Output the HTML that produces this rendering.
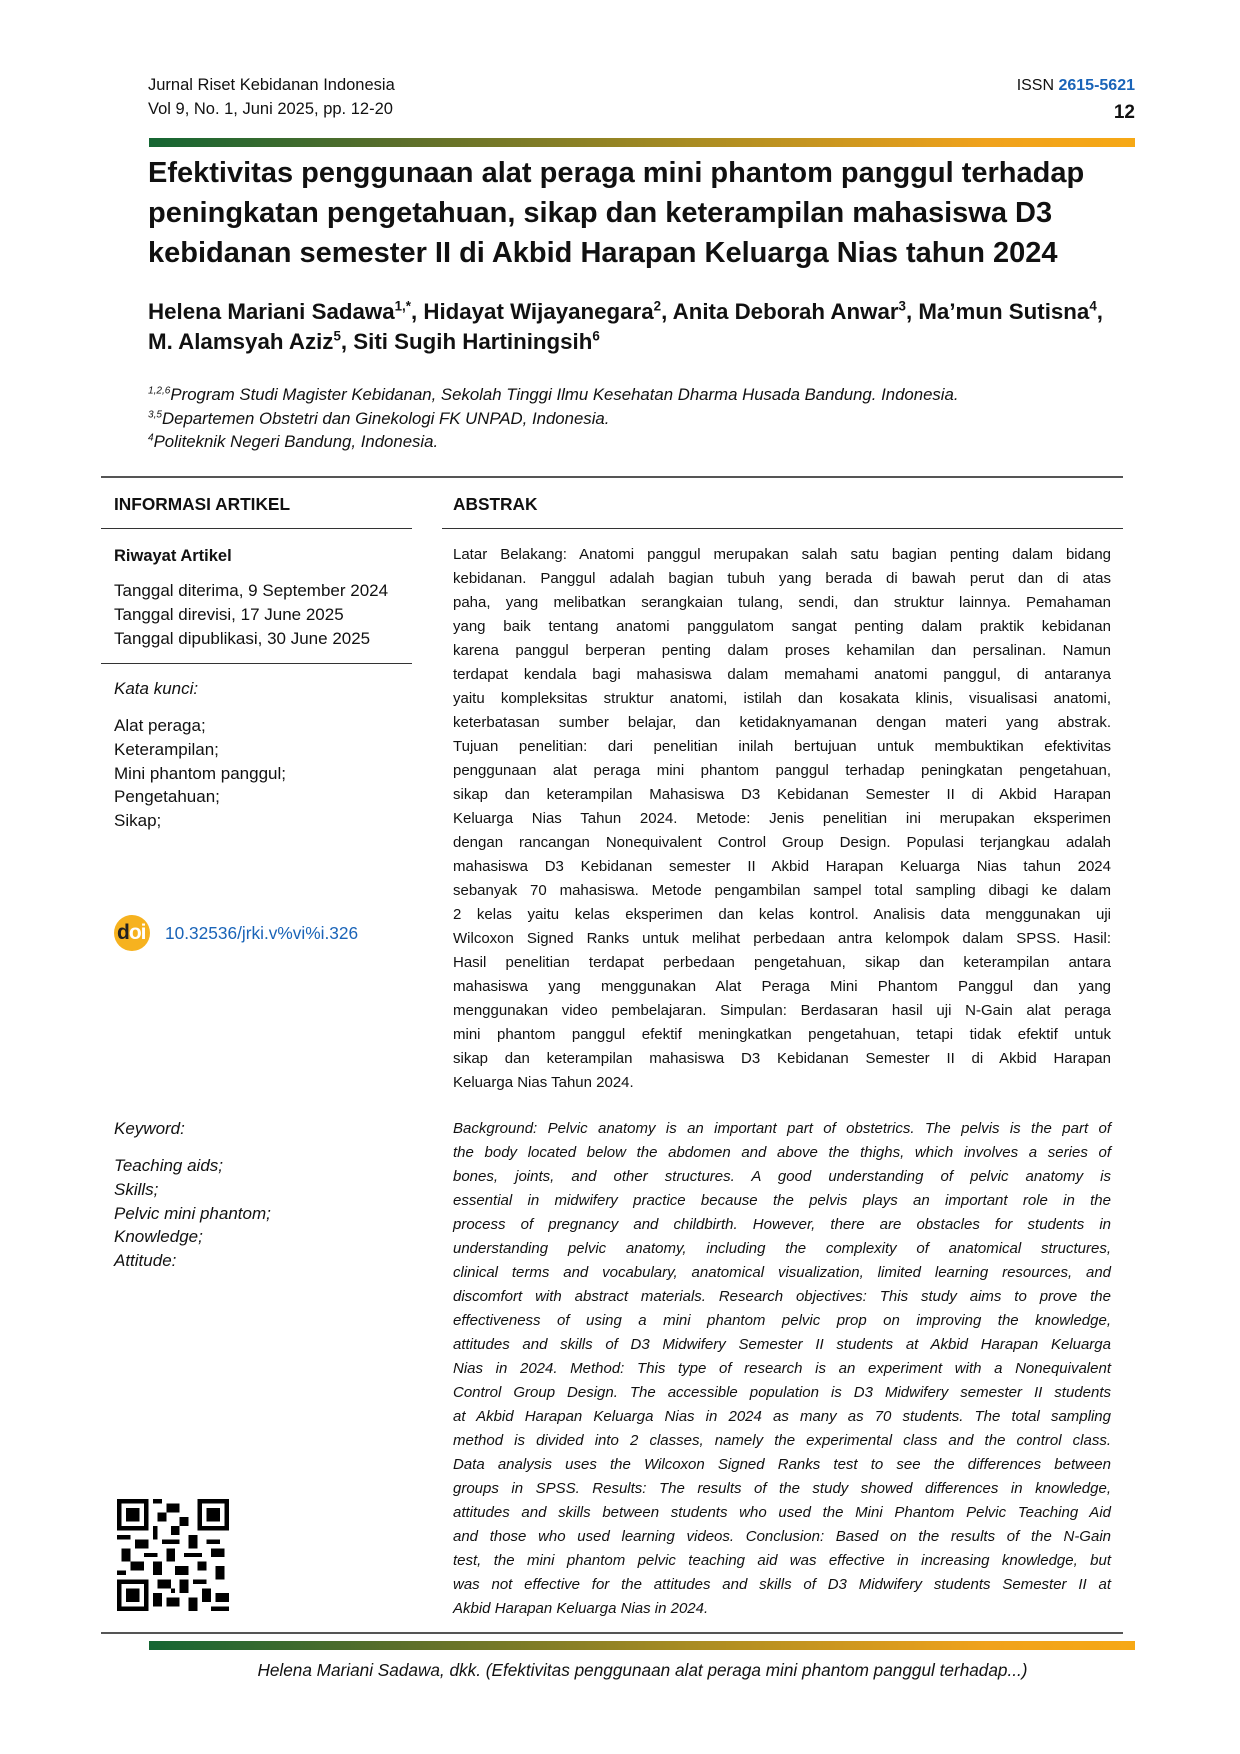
<!DOCTYPE html>
<html><head><meta charset="utf-8"><style>
body{margin:0;background:#fff}
#p{position:relative;width:1240px;height:1754px;overflow:hidden;font-family:"Liberation Sans",sans-serif;color:#111}
.a{position:absolute;white-space:nowrap}
.j{position:absolute;left:453px;width:658px;white-space:nowrap;text-align:justify;text-align-last:justify;font-size:15px;line-height:24px;height:24px}
.l{text-align-last:left}
.e{font-style:italic}
.rule{position:absolute;height:2px;background:#555}
.grad{position:absolute;left:149px;width:986px;height:9px;background:linear-gradient(90deg,#156633,#5a6e2a 25%,#a98c22 55%,#f0a21c 85%,#f6a815)}
sup{font-size:60%;line-height:0}
</style></head><body><div id="p">
<div class="a" style="left:148px;top:75px;font-size:16.5px;line-height:21px">Jurnal Riset Kebidanan Indonesia</div>
<div class="a" style="left:148px;top:99px;font-size:16.5px;line-height:21px">Vol 9, No. 1, Juni 2025, pp. 12-20</div>
<div class="a" style="right:105px;top:75px;font-size:16px;line-height:21px">ISSN <b style="color:#1a64b8">2615-5621</b></div>
<div class="a" style="right:105px;top:101px;font-size:19px;font-weight:bold;line-height:24px">12</div>
<div class="grad" style="top:138px"></div>
<div class="a" style="left:148px;top:153px;font-size:29px;font-weight:bold;line-height:40px">Efektivitas penggunaan alat peraga mini phantom panggul terhadap<br>peningkatan pengetahuan, sikap dan keterampilan mahasiswa D3<br>kebidanan semester II di Akbid Harapan Keluarga Nias tahun 2024</div>
<div class="a" style="left:148px;top:297px;font-size:22.3px;font-weight:bold;line-height:30px">Helena Mariani Sadawa<sup>1,*</sup>, Hidayat Wijayanegara<sup>2</sup>, Anita Deborah Anwar<sup>3</sup>, Ma’mun Sutisna<sup>4</sup>,<br>M. Alamsyah Aziz<sup>5</sup>, Siti Sugih Hartiningsih<sup>6</sup></div>
<div class="a e" style="left:148px;top:383px;font-size:16.8px;line-height:23.5px"><sup>1,2,6</sup>Program Studi Magister Kebidanan, Sekolah Tinggi Ilmu Kesehatan Dharma Husada Bandung. Indonesia.<br><sup>3,5</sup>Departemen Obstetri dan Ginekologi FK UNPAD, Indonesia.<br><sup>4</sup>Politeknik Negeri Bandung, Indonesia.</div>
<div class="rule" style="left:101px;width:1022px;top:476px"></div>
<div class="a" style="left:114px;top:494px;font-size:17.3px;font-weight:bold;line-height:20px">INFORMASI ARTIKEL</div>
<div class="a" style="left:453px;top:494px;font-size:17.3px;font-weight:bold;line-height:20px">ABSTRAK</div>
<div class="rule" style="left:101px;width:311px;top:528px;height:1px;background:#333"></div>
<div class="rule" style="left:442px;width:681px;top:528px;height:1px;background:#333"></div>
<div class="a" style="left:114px;top:546px;font-size:16.5px;font-weight:bold;line-height:20px">Riwayat Artikel</div>
<div class="a" style="left:114px;top:579px;font-size:17px;line-height:24px">Tanggal diterima, 9 September 2024<br>Tanggal direvisi, 17 June 2025<br>Tanggal dipublikasi, 30 June 2025</div>
<div class="rule" style="left:101px;width:311px;top:663px;height:1px;background:#333"></div>
<div class="a e" style="left:114px;top:678px;font-size:17px;line-height:22px">Kata kunci:</div>
<div class="a" style="left:114px;top:714px;font-size:17px;line-height:23.8px">Alat peraga;<br>Keterampilan;<br>Mini phantom panggul;<br>Pengetahuan;<br>Sikap;</div>
<div class="a" style="left:114px;top:915px;width:36px;height:36px;border-radius:50%;background:#f6b21f"></div>
<div class="a" style="left:117px;top:921px;font-size:21px;font-weight:bold;line-height:24px;letter-spacing:-1px"><span style="color:#222">d</span><span style="color:#fff">oi</span></div>
<div class="a" style="left:165px;top:923px;font-size:17.3px;line-height:20px;color:#1a64b8">10.32536/jrki.v%vi%i.326</div>
<div class="a e" style="left:114px;top:1118px;font-size:17px;line-height:22px">Keyword:</div>
<div class="a e" style="left:114px;top:1154px;font-size:17px;line-height:23.8px">Teaching aids;<br>Skills;<br>Pelvic mini phantom;<br>Knowledge;<br>Attitude:</div>
<svg class="a" style="left:117px;top:1499px" width="112" height="112" viewBox="0 0 25 25" shape-rendering="crispEdges">
<rect width="25" height="25" fill="#fff"/>
<g fill="#000">
<path d="M0 0h7v7H0zM18 0h7v7h-7zM0 18h7v7H0z"/>
</g><g fill="#fff"><path d="M1 1h5v5H1zM19 1h5v5h-5zM1 19h5v5H1z"/></g>
<g fill="#000"><path d="M2 2h3v3H2zM20 2h3v3h-3zM2 20h3v3H2z"/>
<path d="M8 0h2v1H8zM11 1h3v2h-3zM9 3h2v2H9zM14 4h2v2h-2zM8 6h1v3H8zM12 6h2v2h-2zM0 8h3v1H0zM4 9h3v2H4zM10 9h4v1h-4zM16 8h2v3h-2zM20 9h3v1h-3zM1 11h2v3H1zM6 12h3v1H6zM11 11h2v3h-2zM15 12h4v1h-4zM21 11h3v2h-3zM3 14h3v2H3zM8 14h2v3H8zM13 15h3v2h-3zM18 14h2v2h-2zM22 15h2v3h-2zM0 16h2v1H0zM9 18h3v2H9zM14 18h2v3h-2zM17 18h3v1h-3zM19 20h2v3h-2zM8 21h2v3H8zM11 22h3v2h-3zM16 22h2v3h-2zM22 21h3v2h-3zM21 24h4v1h-4zM12 20h1v1h-1z"/></g></svg>
<div class="j" style="top:543px">Latar Belakang: Anatomi panggul merupakan salah satu bagian penting dalam bidang</div>
<div class="j" style="top:567px">kebidanan. Panggul adalah bagian tubuh yang berada di bawah perut dan di atas</div>
<div class="j" style="top:591px">paha, yang melibatkan serangkaian tulang, sendi, dan struktur lainnya. Pemahaman</div>
<div class="j" style="top:615px">yang baik tentang anatomi panggulatom sangat penting dalam praktik kebidanan</div>
<div class="j" style="top:639px">karena panggul berperan penting dalam proses kehamilan dan persalinan. Namun</div>
<div class="j" style="top:663px">terdapat kendala bagi mahasiswa dalam memahami anatomi panggul, di antaranya</div>
<div class="j" style="top:687px">yaitu kompleksitas struktur anatomi, istilah dan kosakata klinis, visualisasi anatomi,</div>
<div class="j" style="top:711px">keterbatasan sumber belajar, dan ketidaknyamanan dengan materi yang abstrak.</div>
<div class="j" style="top:735px">Tujuan penelitian: dari penelitian inilah bertujuan untuk membuktikan efektivitas</div>
<div class="j" style="top:759px">penggunaan alat peraga mini phantom panggul terhadap peningkatan pengetahuan,</div>
<div class="j" style="top:783px">sikap dan keterampilan Mahasiswa D3 Kebidanan Semester II di Akbid Harapan</div>
<div class="j" style="top:807px">Keluarga Nias Tahun 2024. Metode: Jenis penelitian ini merupakan eksperimen</div>
<div class="j" style="top:831px">dengan rancangan Nonequivalent Control Group Design. Populasi terjangkau adalah</div>
<div class="j" style="top:855px">mahasiswa D3 Kebidanan semester II Akbid Harapan Keluarga Nias tahun 2024</div>
<div class="j" style="top:879px">sebanyak 70 mahasiswa. Metode pengambilan sampel total sampling dibagi ke dalam</div>
<div class="j" style="top:903px">2 kelas yaitu kelas eksperimen dan kelas kontrol. Analisis data menggunakan uji</div>
<div class="j" style="top:927px">Wilcoxon Signed Ranks untuk melihat perbedaan antra kelompok dalam SPSS. Hasil:</div>
<div class="j" style="top:951px">Hasil penelitian terdapat perbedaan pengetahuan, sikap dan keterampilan antara</div>
<div class="j" style="top:975px">mahasiswa yang menggunakan Alat Peraga Mini Phantom Panggul dan yang</div>
<div class="j" style="top:999px">menggunakan video pembelajaran. Simpulan: Berdasaran hasil uji N-Gain alat peraga</div>
<div class="j" style="top:1023px">mini phantom panggul efektif meningkatkan pengetahuan, tetapi tidak efektif untuk</div>
<div class="j" style="top:1047px">sikap dan keterampilan mahasiswa D3 Kebidanan Semester II di Akbid Harapan</div>
<div class="j l" style="top:1071px">Keluarga Nias Tahun 2024.</div>
<div class="j e" style="top:1117px">Background: Pelvic anatomy is an important part of obstetrics. The pelvis is the part of</div>
<div class="j e" style="top:1141px">the body located below the abdomen and above the thighs, which involves a series of</div>
<div class="j e" style="top:1165px">bones, joints, and other structures. A good understanding of pelvic anatomy is</div>
<div class="j e" style="top:1189px">essential in midwifery practice because the pelvis plays an important role in the</div>
<div class="j e" style="top:1213px">process of pregnancy and childbirth. However, there are obstacles for students in</div>
<div class="j e" style="top:1237px">understanding pelvic anatomy, including the complexity of anatomical structures,</div>
<div class="j e" style="top:1261px">clinical terms and vocabulary, anatomical visualization, limited learning resources, and</div>
<div class="j e" style="top:1285px">discomfort with abstract materials. Research objectives: This study aims to prove the</div>
<div class="j e" style="top:1309px">effectiveness of using a mini phantom pelvic prop on improving the knowledge,</div>
<div class="j e" style="top:1333px">attitudes and skills of D3 Midwifery Semester II students at Akbid Harapan Keluarga</div>
<div class="j e" style="top:1357px">Nias in 2024. Method: This type of research is an experiment with a Nonequivalent</div>
<div class="j e" style="top:1381px">Control Group Design. The accessible population is D3 Midwifery semester II students</div>
<div class="j e" style="top:1405px">at Akbid Harapan Keluarga Nias in 2024 as many as 70 students. The total sampling</div>
<div class="j e" style="top:1429px">method is divided into 2 classes, namely the experimental class and the control class.</div>
<div class="j e" style="top:1453px">Data analysis uses the Wilcoxon Signed Ranks test to see the differences between</div>
<div class="j e" style="top:1477px">groups in SPSS. Results: The results of the study showed differences in knowledge,</div>
<div class="j e" style="top:1501px">attitudes and skills between students who used the Mini Phantom Pelvic Teaching Aid</div>
<div class="j e" style="top:1525px">and those who used learning videos. Conclusion: Based on the results of the N-Gain</div>
<div class="j e" style="top:1549px">test, the mini phantom pelvic teaching aid was effective in increasing knowledge, but</div>
<div class="j e" style="top:1573px">was not effective for the attitudes and skills of D3 Midwifery students Semester II at</div>
<div class="j e l" style="top:1597px">Akbid Harapan Keluarga Nias in 2024.</div>
<div class="rule" style="left:101px;width:1022px;top:1632px"></div>
<div class="grad" style="top:1641px"></div>
<div class="a e" style="left:0;width:1285px;text-align:center;top:1659px;font-size:17.2px;line-height:22px">Helena Mariani Sadawa, dkk. (Efektivitas penggunaan alat peraga mini phantom panggul terhadap...)</div>
</div></body></html>
